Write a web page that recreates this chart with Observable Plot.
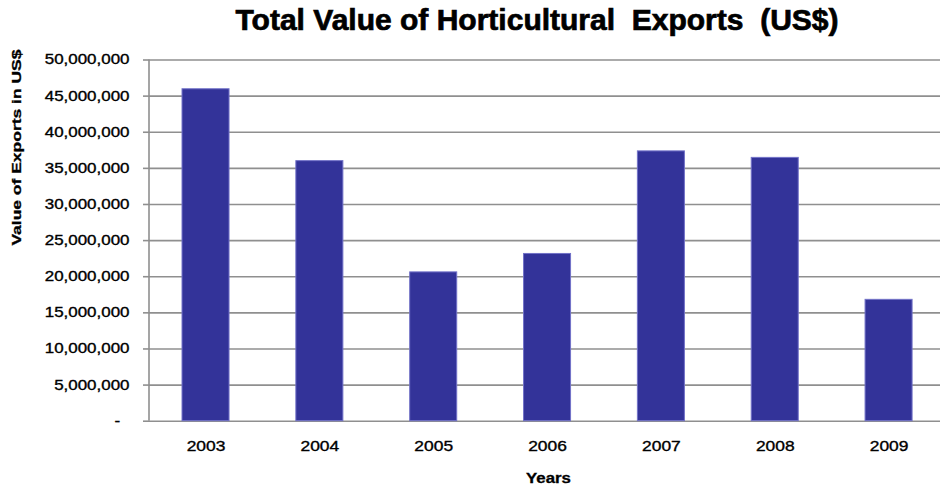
<!DOCTYPE html>
<html><head><meta charset="utf-8">
<script src="https://cdn.jsdelivr.net/npm/d3@7"></script>
<script src="https://cdn.jsdelivr.net/npm/@observablehq/plot@0.6"></script>
<style>
body{margin:0;background:#fff;width:940px;height:486px;overflow:hidden;font-family:"Liberation Sans",Arial,sans-serif;}
#title{height:41px;line-height:41px;position:relative;}
#title span{position:absolute;left:536.5px;top:0;transform:translateX(-50%);font-weight:bold;font-size:29px;white-space:pre;color:#000;-webkit-text-stroke:0.7px #000;}
#chart svg{display:block}
</style></head>
<body><div id="title"><span id="t"></span></div><div id="chart"></div>
<script>
const titleText = "Total Value of Horticultural  Exports  (US$)";
const yLabel = "Value of Exports in US$";
const xLabel = "Years";
const years = ["2003", "2004", "2005", "2006", "2007", "2008", "2009"];
const values = [45950000, 36000000, 20600000, 23150000, 37350000, 36450000, 16800000];
const yTicks = [0, 5000000, 10000000, 15000000, 20000000, 25000000, 30000000, 35000000, 40000000, 45000000, 50000000];

const data = years.map((year, i) => ({year, value: values[i]}));
const gridColor = "#8f8f8f";

document.getElementById("t").textContent = titleText;

const leftLine = (index, scales, values, dims) => {
  const l = d3.create("svg:line")
    .attr("x1", dims.marginLeft).attr("x2", dims.marginLeft)
    .attr("y1", dims.marginTop).attr("y2", dims.height - dims.marginBottom)
    .attr("stroke", gridColor).attr("stroke-width", 1.6);
  return l.node();
};

const chart = Plot.plot({
  width: 940, height: 445,
  marginTop: 18.5, marginBottom: 65.3, marginLeft: 149, marginRight: 0,
  style: {fontFamily: "Liberation Sans, Arial, sans-serif", background: "white", color: "#000"},
  x: {type: "band", domain: years, range: [148.6, 945.5], paddingInner: 0.587, paddingOuter: 0.2935, round: false, label: null},
  y: {domain: [0, 50000000], label: null},
  marks: [
    Plot.gridY(yTicks, {stroke: gridColor, strokeOpacity: 1, strokeWidth: 1.6}),
    Plot.barY(data, {x: "year", y: "value", fill: "#333399", stroke: "#7272c8", strokeWidth: 1}),
    leftLine,
    Plot.axisY(yTicks, {tickSize: 6, tickPadding: 14, fontSize: 14, stroke: gridColor, strokeWidth: 1.6, strokeOpacity: 1, fill: "#000",
      tickFormat: d => d === 0 ? "-\u2007" : d3.format(",")(d), label: null}),
    Plot.axisX({tickSize: 0, tickPadding: 20, fontSize: 14.5, fill: "#000", label: null}),
    Plot.text([xLabel], {text: d => d, frameAnchor: "bottom", dx: 3.5, dy: 57.3, lineAnchor: "middle", fontWeight: "bold", fontSize: 14, fill: "#000"}),
    Plot.text([yLabel], {text: d => d, frameAnchor: "left", rotate: -90, dx: -132.5, dy: 5, lineAnchor: "middle", fontWeight: "bold", fontSize: 13, fill: "#000"})
  ]
});
document.getElementById("chart").appendChild(chart);

// widen and darken glyphs like the original
function stretch(sel, k, sw) {
  chart.querySelectorAll(sel).forEach(el => {
    const len = el.getComputedTextLength();
    el.setAttribute("textLength", len * k);
    el.setAttribute("lengthAdjust", "spacingAndGlyphs");
    el.setAttribute("stroke", "#000");
    el.setAttribute("stroke-width", sw);
  });
}
stretch('g[aria-label="y-axis tick label"] text', 1.21, 0.35);
stretch('g[aria-label="x-axis tick label"] text', 1.2, 0.35);
const texts = chart.querySelectorAll('g[aria-label="text"] text');
if (texts.length === 2) {
  const lx = texts[0].getComputedTextLength();
  texts[0].setAttribute("textLength", lx * 1.2); texts[0].setAttribute("lengthAdjust", "spacingAndGlyphs");
  texts[1].setAttribute("textLength", 196); texts[1].setAttribute("lengthAdjust", "spacingAndGlyphs");
  texts.forEach(el => { el.setAttribute("stroke", "#000"); el.setAttribute("stroke-width", 0.3); });
}
const t = document.getElementById("t");
const w = t.getBoundingClientRect().width;
t.style.transform = `translateX(-50%) scaleX(${603 / w})`;
</script>
</body></html>
